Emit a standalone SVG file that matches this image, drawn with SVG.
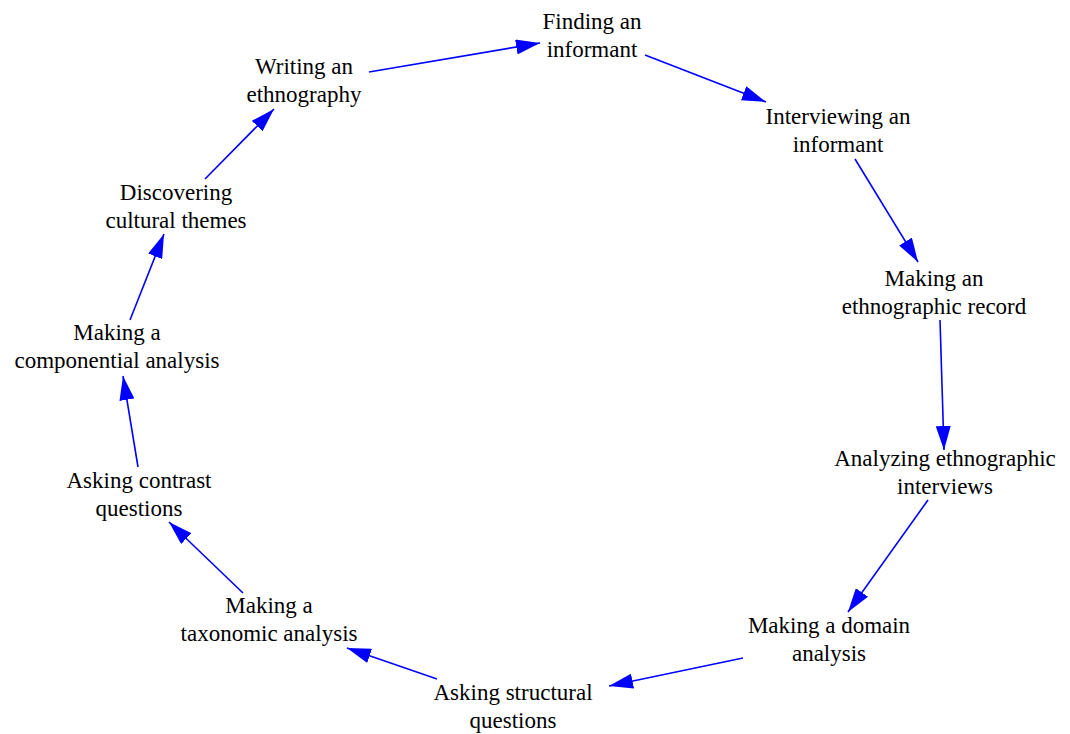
<svg xmlns="http://www.w3.org/2000/svg" width="1070" height="734" viewBox="0 0 1070 734">
<defs>
<marker id="ah" markerUnits="userSpaceOnUse" markerWidth="24" markerHeight="15" refX="24" refY="7.5" orient="auto">
<path d="M0,0 L24,7.5 L0,15 z" fill="#0000ff"/>
</marker>
<style>
text{font-family:"Liberation Serif","Times New Roman",serif;font-size:23px;fill:#000;text-anchor:middle}
.e line{stroke:#0000ff;stroke-width:1.6;marker-end:url(#ah)}
</style>
</defs>
<rect width="1070" height="734" fill="#fff"/>
<g id="n1"><text x="592" y="29">Finding an</text><text x="592" y="57">informant</text></g>
<g id="n2"><text x="838" y="124">Interviewing an</text><text x="838" y="152">informant</text></g>
<g id="n3"><text x="934" y="286">Making an</text><text x="934" y="314">ethnographic record</text></g>
<g id="n4"><text x="945" y="466">Analyzing ethnographic</text><text x="945" y="494">interviews</text></g>
<g id="n5"><text x="829" y="633">Making a domain</text><text x="829" y="661">analysis</text></g>
<g id="n6"><text x="513" y="700">Asking structural</text><text x="513" y="728">questions</text></g>
<g id="n7"><text x="269" y="613">Making a</text><text x="269" y="641">taxonomic analysis</text></g>
<g id="n8"><text x="139" y="488">Asking contrast</text><text x="139" y="516">questions</text></g>
<g id="n9"><text x="117" y="340">Making a</text><text x="117" y="368">componential analysis</text></g>
<g id="n10"><text x="176" y="200">Discovering</text><text x="176" y="228">cultural themes</text></g>
<g id="n11"><text x="304" y="74">Writing an</text><text x="304" y="102">ethnography</text></g>
<g id="edges" class="e">
<line x1="369" y1="72" x2="540" y2="43"/>
<line x1="645" y1="55" x2="766" y2="102"/>
<line x1="855" y1="159" x2="918" y2="262"/>
<line x1="940" y1="320" x2="944" y2="450"/>
<line x1="928" y1="500" x2="848" y2="612"/>
<line x1="743" y1="658" x2="609" y2="686"/>
<line x1="437" y1="679" x2="347" y2="648"/>
<line x1="243" y1="593" x2="169" y2="522"/>
<line x1="138" y1="467" x2="123" y2="376"/>
<line x1="130" y1="320" x2="164" y2="234"/>
<line x1="205" y1="179" x2="274" y2="109"/>
</g>
</svg>
